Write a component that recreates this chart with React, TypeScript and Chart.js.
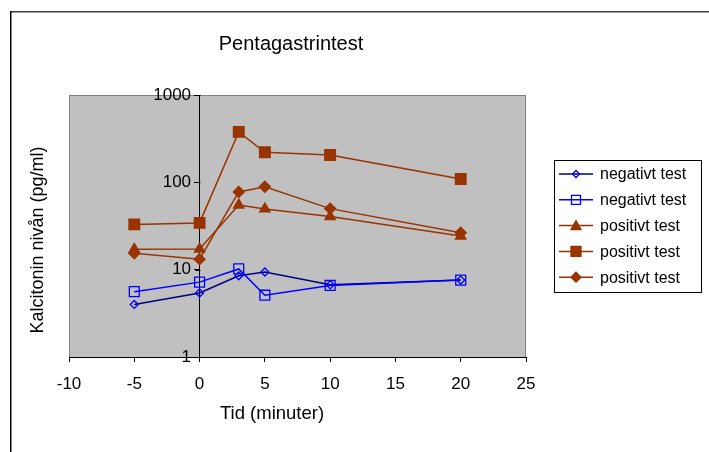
import React, { useEffect, useRef } from "react";
import { Chart, registerables } from "chart.js";
Chart.register(...registerables);

const times = [-5, 0, 3, 5, 10, 20];
const negDiamond = [4.0, 5.4, 8.5, 9.4, 6.7, 7.6];
const negSquare = [5.6, 7.2, 10.2, 5.1, 6.6, 7.6];
const posTriangle = [17.1, 17.2, 55, 49.6, 40.5, 24.3];
const posSquare = [33, 34.3, 378, 221, 206, 109];
const posDiamond = [15.4, 13.2, 77.6, 89, 50, 26.5];
const seriesLabels = ["negativt test", "negativt test", "positivt test", "positivt test", "positivt test"];
const xTicks = [-10, -5, 0, 5, 10, 15, 20, 25];
const yTicks = [1, 10, 100, 1000];
const chartTitle = "Pentagastrintest";
const xTitle = "Tid (minuter)";
const yTitle = "Kalcitonin nivån (pg/ml)";

const FONT = "'Liberation Sans', Arial, sans-serif";
const BROWN = "#993300";

type Style = {
  line: string;
  marker: string;
  fill: string;
  shape: "diamond" | "square" | "triangle";
  radius: number;
  legendSize: number;
};

const styles: Style[] = [
  { line: "#000080", marker: "#0000FF", fill: "rgba(0,0,0,0)", shape: "diamond", radius: 4, legendSize: 3.5 },
  { line: "#0000FF", marker: "#0000FF", fill: "rgba(0,0,0,0)", shape: "square", radius: 7, legendSize: 4.5 },
  { line: BROWN, marker: BROWN, fill: BROWN, shape: "triangle", radius: 6, legendSize: 5 },
  { line: BROWN, marker: BROWN, fill: BROWN, shape: "square", radius: 7.5, legendSize: 5 },
  { line: BROWN, marker: BROWN, fill: BROWN, shape: "diamond", radius: 5.5, legendSize: 5 },
];

const seriesValues = [negDiamond, negSquare, posTriangle, posSquare, posDiamond];

const pointStyleOf = (s: Style) => (s.shape === "diamond" ? "rectRot" : s.shape === "square" ? "rect" : "triangle");

function drawMarker(ctx: CanvasRenderingContext2D, s: Style, x: number, y: number) {
  const r = s.legendSize;
  ctx.beginPath();
  if (s.shape === "diamond") {
    ctx.moveTo(x, y - r);
    ctx.lineTo(x + r, y);
    ctx.lineTo(x, y + r);
    ctx.lineTo(x - r, y);
    ctx.closePath();
  } else if (s.shape === "square") {
    ctx.rect(x - r, y - r, 2 * r, 2 * r);
  } else {
    ctx.moveTo(x, y - r);
    ctx.lineTo(x + r, y + r * 0.8);
    ctx.lineTo(x - r, y + r * 0.8);
    ctx.closePath();
  }
  ctx.fillStyle = s.fill;
  ctx.fill();
  ctx.strokeStyle = s.marker;
  ctx.lineWidth = 1.3;
  ctx.stroke();
}

const decorPlugin = {
  id: "decor",
  beforeDraw(chart: any) {
    const { ctx, chartArea } = chart;
    ctx.save();
    ctx.fillStyle = "#ffffff";
    ctx.fillRect(0, 0, chart.width, chart.height);
    ctx.fillStyle = "#C0C0C0";
    ctx.fillRect(chartArea.left, chartArea.top, chartArea.right - chartArea.left, chartArea.bottom - chartArea.top);
    ctx.strokeStyle = "#808080";
    ctx.lineWidth = 1;
    ctx.strokeRect(chartArea.left + 0.5, chartArea.top + 0.5, chartArea.right - chartArea.left - 1, chartArea.bottom - chartArea.top);
    // outer frame
    ctx.strokeStyle = "#404040";
    ctx.lineWidth = 1.5;
    ctx.beginPath();
    ctx.moveTo(10, 11.75);
    ctx.lineTo(chart.width, 11.75);
    ctx.stroke();
    ctx.strokeStyle = "#000000";
    ctx.beginPath();
    ctx.moveTo(10.75, 11);
    ctx.lineTo(10.75, chart.height);
    ctx.stroke();
    ctx.restore();
  },
  afterDraw(chart: any) {
    const { ctx, scales } = chart;
    ctx.save();
    // y-axis tick marks at the crossing x = 0
    const x0 = Math.round(scales.x.getPixelForValue(0)) + 0.5;
    ctx.strokeStyle = "#000000";
    ctx.lineWidth = 1;
    yTicks.forEach((v) => {
      const y = Math.round(scales.y.getPixelForValue(v)) + 0.5;
      ctx.beginPath();
      ctx.moveTo(x0 - 5, y);
      ctx.lineTo(x0, y);
      ctx.stroke();
    });

    ctx.fillStyle = "#000000";
    ctx.textAlign = "center";
    ctx.textBaseline = "middle";
    ctx.font = `20px ${FONT}`;
    ctx.fillText(chartTitle, 291, 44);
    ctx.font = `18.5px ${FONT}`;
    ctx.fillText(xTitle, 272, 414);
    ctx.save();
    ctx.translate(38, 240);
    ctx.rotate(-Math.PI / 2);
    ctx.font = `18px ${FONT}`;
    ctx.fillText(yTitle, 0, 0);
    ctx.restore();

    // legend
    const bx = 554, by = 160, bw = 147, bh = 132;
    ctx.strokeStyle = "#000000";
    ctx.lineWidth = 1;
    ctx.strokeRect(bx + 0.5, by + 0.5, bw, bh);
    ctx.font = `16px ${FONT}`;
    ctx.textAlign = "left";
    seriesLabels.forEach((label, i) => {
      const s = styles[i];
      const y = 174 + i * 25.8;
      ctx.strokeStyle = s.line;
      ctx.lineWidth = 1.5;
      ctx.beginPath();
      ctx.moveTo(559, y);
      ctx.lineTo(593, y);
      ctx.stroke();
      drawMarker(ctx, s, 576, y);
      ctx.fillStyle = "#000000";
      ctx.fillText(label, 600, y + 1);
    });
    ctx.restore();
  },
};

export default function App() {
  const ref = useRef<HTMLCanvasElement | null>(null);
  useEffect(() => {
    if (!ref.current) return;
    const datasets = seriesValues.map((vals, i) => {
      const s = styles[i];
      return {
        label: seriesLabels[i],
        data: times.map((t, j) => ({ x: t, y: vals[j] })),
        borderColor: s.line,
        borderWidth: 1.5,
        pointStyle: pointStyleOf(s),
        pointRadius: s.radius,
        pointHoverRadius: s.radius,
        pointBorderColor: s.marker,
        pointBackgroundColor: s.fill,
        pointBorderWidth: 1.3,
        fill: false,
        tension: 0,
        order: 5 - i,
      };
    });
    const chart = new Chart(ref.current, {
      type: "line",
      data: { datasets },
      options: {
        responsive: false,
        animation: false,
        devicePixelRatio: 1,
        layout: { padding: { left: 69, right: 183, top: 95, bottom: 50 } },
        plugins: { legend: { display: false }, tooltip: { enabled: false }, title: { display: false } },
        scales: {
          x: {
            type: "linear",
            min: -10,
            max: 25,
            afterBuildTicks: (scale: any) => {
              scale.ticks = xTicks.map((v) => ({ value: v }));
            },
            afterFit: (scale: any) => {
              scale.height = 45;
            },
            border: { display: true, color: "#000000", width: 1 },
            grid: { drawOnChartArea: false, drawTicks: true, tickLength: 5, color: "#000000" },
            ticks: { color: "#000000", font: { family: FONT, size: 17 }, padding: 12, maxRotation: 0, autoSkip: false },
          },
          y: {
            type: "logarithmic",
            min: 1,
            max: 1000,
            position: { x: 0 } as any,
            afterBuildTicks: (scale: any) => {
              scale.ticks = yTicks.map((v) => ({ value: v, major: true }));
            },
            border: { display: true, color: "#000000", width: 1 },
            grid: { drawOnChartArea: false, drawTicks: true, tickLength: 5, color: "#000000" },
            ticks: {
              color: "#000000",
              font: { family: FONT, size: 17 },
              padding: 3,
              autoSkip: false,
              callback: (v: any) => String(v) + "\u2002",
            },
          },
        },
      },
      plugins: [decorPlugin],
    } as any);
    return () => chart.destroy();
  }, []);
  return (
    <div style={{ position: "fixed", left: 0, top: 0, width: 709, height: 452, background: "#fff" }}>
      <canvas ref={ref} width={709} height={452} style={{ display: "block", width: 709, height: 452 }} />
    </div>
  );
}
